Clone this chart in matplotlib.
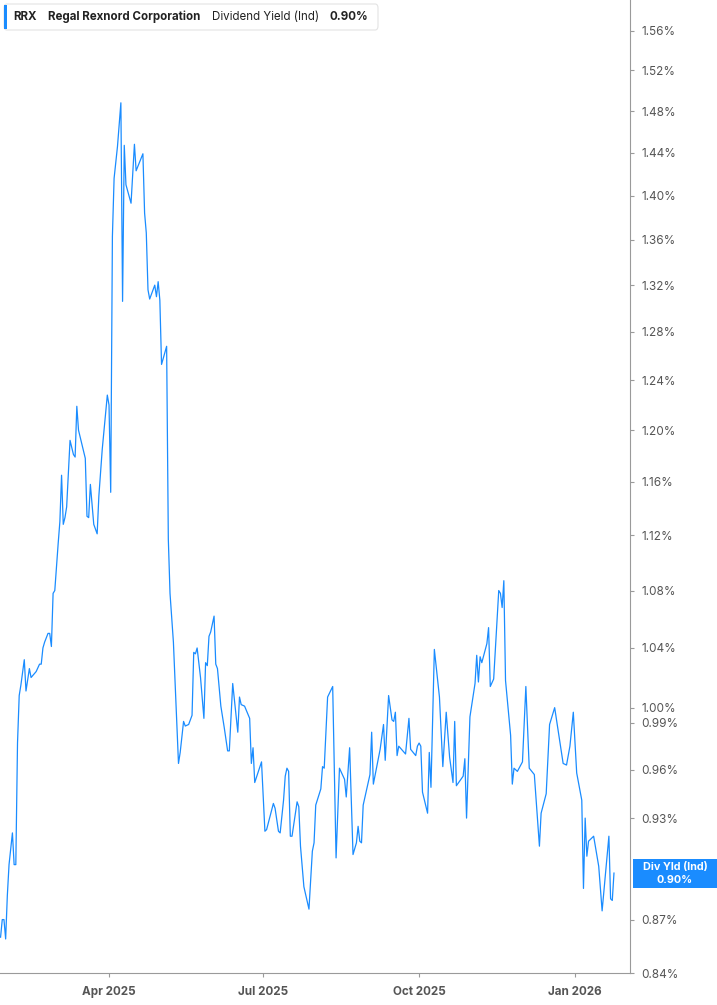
import pandas as pd
import matplotlib
matplotlib.use('Agg')
import matplotlib.pyplot as plt
from matplotlib.patches import FancyBboxPatch, Rectangle
from matplotlib.ticker import FixedLocator, FuncFormatter, NullLocator, NullFormatter

plt.rcParams['font.family'] = ['Inter', 'DejaVu Sans']

# data (dividend yield, %)
dates = [
    '2025-01-27', '2025-01-28', '2025-01-29', '2025-01-30', '2025-01-31', '2025-02-01', '2025-02-03', '2025-02-04', '2025-02-05', '2025-02-06',
    '2025-02-07', '2025-02-08', '2025-02-10', '2025-02-11', '2025-02-13', '2025-02-14', '2025-02-17', '2025-02-19', '2025-02-20', '2025-02-21',
    '2025-02-22', '2025-02-24', '2025-02-25', '2025-02-26', '2025-02-27', '2025-02-28', '2025-03-02', '2025-03-03', '2025-03-04', '2025-03-05',
    '2025-03-06', '2025-03-07', '2025-03-09', '2025-03-11', '2025-03-12', '2025-03-13', '2025-03-14', '2025-03-16', '2025-03-18', '2025-03-19',
    '2025-03-20', '2025-03-21', '2025-03-23', '2025-03-25', '2025-03-26', '2025-03-28', '2025-03-31', '2025-04-01', '2025-04-02', '2025-04-03',
    '2025-04-04', '2025-04-06', '2025-04-08', '2025-04-09', '2025-04-10', '2025-04-11', '2025-04-14', '2025-04-16', '2025-04-17', '2025-04-21',
    '2025-04-22', '2025-04-23', '2025-04-24', '2025-04-25', '2025-04-28', '2025-04-29', '2025-04-30', '2025-05-01', '2025-05-02', '2025-05-05',
    '2025-05-06', '2025-05-07', '2025-05-09', '2025-05-12', '2025-05-13', '2025-05-15', '2025-05-16', '2025-05-18', '2025-05-20', '2025-05-21',
    '2025-05-22', '2025-05-23', '2025-05-25', '2025-05-27', '2025-05-28', '2025-05-29', '2025-05-30', '2025-05-31', '2025-06-02', '2025-06-03',
    '2025-06-04', '2025-06-06', '2025-06-08', '2025-06-10', '2025-06-11', '2025-06-13', '2025-06-16', '2025-06-17', '2025-06-18', '2025-06-20',
    '2025-06-23', '2025-06-24', '2025-06-25', '2025-06-26', '2025-06-30', '2025-07-02', '2025-07-03', '2025-07-07', '2025-07-08', '2025-07-10',
    '2025-07-11', '2025-07-13', '2025-07-14', '2025-07-15', '2025-07-16', '2025-07-17', '2025-07-18', '2025-07-21', '2025-07-22', '2025-07-23',
    '2025-07-25', '2025-07-28', '2025-07-30', '2025-07-31', '2025-08-01', '2025-08-04', '2025-08-05', '2025-08-06', '2025-08-08', '2025-08-11',
    '2025-08-13', '2025-08-15', '2025-08-18', '2025-08-19', '2025-08-21', '2025-08-23', '2025-08-25', '2025-08-26', '2025-08-27', '2025-08-28',
    '2025-08-29', '2025-09-02', '2025-09-03', '2025-09-04', '2025-09-06', '2025-09-08', '2025-09-10', '2025-09-11', '2025-09-13', '2025-09-15',
    '2025-09-16', '2025-09-17', '2025-09-18', '2025-09-19', '2025-09-23', '2025-09-25', '2025-09-26', '2025-09-29', '2025-09-30', '2025-10-01',
    '2025-10-02', '2025-10-03', '2025-10-06', '2025-10-07', '2025-10-08', '2025-10-10', '2025-10-13', '2025-10-15', '2025-10-17', '2025-10-19',
    '2025-10-21', '2025-10-22', '2025-10-23', '2025-10-27', '2025-10-28', '2025-10-29', '2025-10-31', '2025-11-03', '2025-11-04', '2025-11-05',
    '2025-11-06', '2025-11-07', '2025-11-10', '2025-11-11', '2025-11-12', '2025-11-14', '2025-11-17', '2025-11-18', '2025-11-19', '2025-11-20',
    '2025-11-21', '2025-11-24', '2025-11-25', '2025-11-26', '2025-11-28', '2025-12-01', '2025-12-03', '2025-12-05', '2025-12-08', '2025-12-11',
    '2025-12-12', '2025-12-15', '2025-12-17', '2025-12-20', '2025-12-25', '2025-12-27', '2025-12-29', '2025-12-31', '2026-01-02', '2026-01-05',
    '2026-01-06', '2026-01-07', '2026-01-08', '2026-01-09', '2026-01-12', '2026-01-15', '2026-01-17', '2026-01-21', '2026-01-22', '2026-01-23',
    '2026-01-24',
]
div_yield = [
    0.860, 0.870, 0.870, 0.859, 0.884, 0.902, 0.921, 0.902, 0.902, 0.977,
    1.008, 1.015, 1.032, 1.011, 1.026, 1.020, 1.024, 1.029, 1.029, 1.040,
    1.044, 1.050, 1.050, 1.041, 1.078, 1.080, 1.114, 1.130, 1.165, 1.128,
    1.133, 1.141, 1.192, 1.181, 1.179, 1.219, 1.200, 1.189, 1.178, 1.134,
    1.133, 1.158, 1.128, 1.121, 1.149, 1.185, 1.228, 1.220, 1.152, 1.363,
    1.416, 1.446, 1.488, 1.306, 1.447, 1.410, 1.393, 1.448, 1.423, 1.439,
    1.384, 1.366, 1.316, 1.308, 1.320, 1.310, 1.323, 1.307, 1.253, 1.268,
    1.117, 1.078, 1.044, 0.964, 0.971, 0.991, 0.988, 0.989, 0.995, 1.037,
    1.036, 1.040, 1.020, 0.993, 1.030, 1.028, 1.048, 1.051, 1.062, 1.029,
    1.026, 1.001, 0.987, 0.972, 0.972, 1.016, 0.984, 1.007, 1.002, 1.001,
    0.993, 0.964, 0.974, 0.952, 0.965, 0.922, 0.923, 0.939, 0.936, 0.922,
    0.921, 0.941, 0.956, 0.961, 0.959, 0.919, 0.919, 0.940, 0.937, 0.913,
    0.889, 0.876, 0.910, 0.915, 0.938, 0.948, 0.962, 0.961, 1.007, 1.014,
    0.906, 0.961, 0.954, 0.943, 0.974, 0.908, 0.915, 0.925, 0.916, 0.915,
    0.938, 0.957, 0.984, 0.951, 0.962, 0.973, 0.989, 0.966, 1.008, 0.992,
    0.991, 0.997, 0.969, 0.975, 0.970, 0.993, 0.973, 0.969, 0.975, 0.977,
    0.975, 0.946, 0.933, 0.971, 0.949, 1.039, 1.007, 0.962, 0.997, 0.968,
    0.952, 0.991, 0.950, 0.956, 0.967, 0.930, 0.994, 1.016, 1.035, 1.017,
    1.034, 1.030, 1.043, 1.054, 1.014, 1.019, 1.080, 1.078, 1.068, 1.087,
    1.018, 0.982, 0.951, 0.961, 0.959, 0.965, 1.014, 0.961, 0.957, 0.913,
    0.933, 0.945, 0.989, 1.000, 0.964, 0.963, 0.975, 0.997, 0.958, 0.941,
    0.888, 0.930, 0.907, 0.916, 0.919, 0.901, 0.875, 0.919, 0.882, 0.881,
    0.897,
]

y_ticks = [0.84, 0.87, 0.93, 0.96, 0.99, 1.00, 1.04, 1.08, 1.12, 1.16, 1.20,
           1.24, 1.28, 1.32, 1.36, 1.40, 1.44, 1.48, 1.52, 1.56]
x_ticks = ['2025-04-01', '2025-07-01', '2025-10-01', '2026-01-01']
x_tick_labels = ['Apr 2025', 'Jul 2025', 'Oct 2025', 'Jan 2026']

symbol = 'RRX'
company = 'Regal Rexnord Corporation'
metric = 'Dividend Yield (Ind)'
last_value = '0.90%'
badge_label = 'Div Yld (Ind)'

BLUE = '#1a8cff'
GREY = '#555555'
W, H = 717, 1005


def px(x, y):
    # pixel position (from top-left) -> figure fraction
    return x / W, 1 - y / H


fig = plt.figure(figsize=(W / 100, H / 100), dpi=100)
ax = fig.add_axes([0, 32 / H, 630 / W, 973 / H])

ax.plot(pd.to_datetime(dates), div_yield, color=BLUE, lw=0.9)

ax.set_yscale('log')
ax.set_ylim(0.84, 1.592)
ax.set_xlim(pd.Timestamp('2025-01-26 16:00'), pd.Timestamp('2026-02-02 11:00'))

ax.yaxis.tick_right()
ax.yaxis.set_major_locator(FixedLocator(y_ticks))
ax.yaxis.set_minor_locator(NullLocator())
ax.yaxis.set_minor_formatter(NullFormatter())
ax.yaxis.set_major_formatter(FuncFormatter(lambda v, p: f'{v:.2f}%'))
ax.set_xticks(pd.to_datetime(x_ticks))
ax.set_xticklabels(x_tick_labels, fontweight='bold')

for s in ['top', 'left']:
    ax.spines[s].set_visible(False)
for s in ['right', 'bottom']:
    ax.spines[s].set_color('#9a9a9a')
    ax.spines[s].set_linewidth(0.8)
ax.tick_params(axis='y', direction='out', length=3, width=0.8, color='#9a9a9a',
               labelsize=8.5, labelcolor=GREY, pad=5)
ax.tick_params(axis='x', direction='out', length=3, width=0.8, color='#9a9a9a',
               labelsize=8.4, labelcolor=GREY, pad=6)

# header box
x0, y0 = px(4, 30)
box = FancyBboxPatch((x0, y0), 374 / W, 26 / H, boxstyle='round,pad=0,rounding_size=0.004',
                     transform=fig.transFigure, facecolor='white', edgecolor='#e3e3e3', lw=0.8)
fig.add_artist(box)
fig.add_artist(Rectangle(px(4, 29), 3 / W, 24 / H, transform=fig.transFigure,
                         facecolor=BLUE, edgecolor='none'))
ty = 16.5
fig.text(*px(13, ty), symbol, fontsize=8.3, fontweight='bold', color='#222222', va='center')
fig.text(*px(48, ty), company, fontsize=8.3, fontweight='bold', color='#222222', va='center')
fig.text(*px(212, ty), metric, fontsize=8.3, color='#222222', va='center')
fig.text(*px(329, ty), last_value, fontsize=8.3, fontweight='bold', color='#222222', va='center')

# last value badge
fig.add_artist(Rectangle(px(633, 888), 84 / W, 29 / H, transform=fig.transFigure,
                         facecolor=BLUE, edgecolor='none'))
fig.text(*px(675, 866.5), badge_label, fontsize=7.8, fontweight='bold', color='white',
         ha='center', va='center')
fig.text(*px(675, 880), last_value, fontsize=7.8, fontweight='bold', color='white',
         ha='center', va='center')

fig.savefig('out.png', dpi=100)
